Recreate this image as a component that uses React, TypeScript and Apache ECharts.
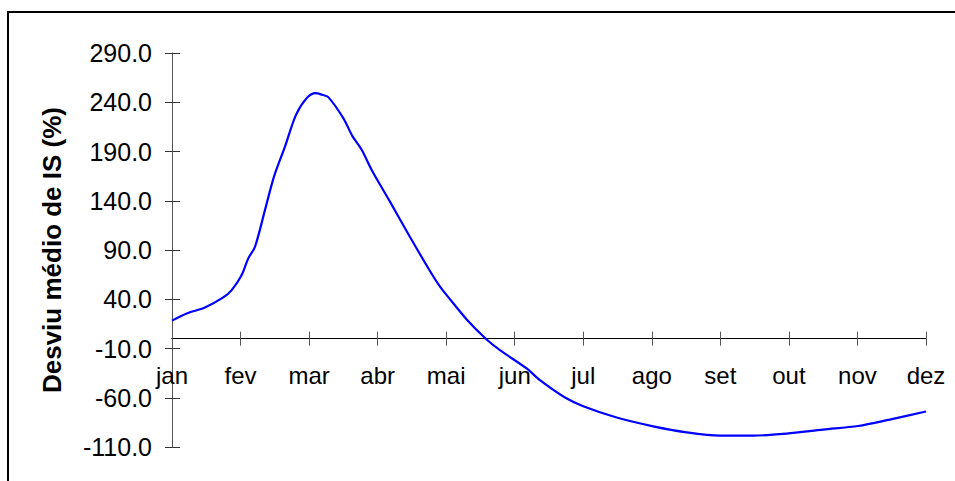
import React, { useEffect, useRef } from "react";
import * as echarts from "echarts";

// Month categories (x positions 0..11)
const months = ["jan", "fev", "mar", "abr", "mai", "jun", "jul", "ago", "set", "out", "nov", "dez"];

// Y tick values
const yTicks = [-110, -60, -10, 40, 90, 140, 190, 240, 290];

// Curve sample positions (in month units, jan = 0) and values (%)
const xPos = [
  0, 0.214, 0.48, 0.748, 0.871, 1.017, 1.113, 1.211, 1.357, 1.488, 1.648, 1.809, 1.965, 2.096, 2.19, 2.28,
  2.499, 2.63, 2.767, 2.913, 3.18, 3.47, 3.77, 3.91, 4.007, 4.299, 4.59, 4.785, 5.174, 5.368, 5.733, 6.0,
  6.487, 7.02, 7.508, 7.994, 8.48, 8.967, 9.5, 10.01, 10.47, 11.0,
];
const yVal = [
  18.3, 25.6, 31.7, 41.9, 49.3, 64.6, 81.5, 93.3, 130.7, 164.5, 195.0, 227.2, 244.2, 249.3, 247.6, 245.2,
  223.9, 205.9, 191.7, 171.3, 139.1, 103.5, 67.9, 52.7, 44.2, 19.5, -0.8, -11.7, -30.3, -42.2, -59.8, -68.6,
  -80.1, -89.0, -95.1, -98.4, -98.4, -96.4, -92.3, -88.7, -82.2, -74.0,
];

const yTitle = "Desviu médio de IS (%)";

const FONT = "'Liberation Sans', Arial, Helvetica, sans-serif";

export default function App() {
  const ref = useRef<HTMLDivElement>(null);

  useEffect(() => {
    if (!ref.current) return;
    const chart = echarts.init(ref.current, null, { renderer: "svg" });

    const xBase: any = {
      type: "value",
      min: 0,
      max: 11,
      interval: 1,
      position: "bottom",
      splitLine: { show: false },
      axisLine: { show: true, onZero: true, lineStyle: { color: "#000", width: 1 } },
    };
    const yBase: any = {
      type: "value",
      min: -110,
      max: 290,
      position: "left",
      splitLine: { show: false },
    };

    chart.setOption({
      animation: false,
      backgroundColor: "#ffffff",
      grid: { left: 172, right: 29, top: 53, bottom: 34, containLabel: false, outerBoundsMode: "none" },
      xAxis: [
        {
          ...xBase,
          axisTick: { show: true, inside: false, length: 7, lineStyle: { color: "#555", width: 1 } },
          axisLabel: {
            show: true,
            formatter: (v: number) => months[Math.round(v)] ?? "",
            fontSize: 24,
            fontFamily: FONT,
            color: "#000",
            // labels sit just under the zero line (which is above the grid's bottom edge)
            margin: -84,
            showMinLabel: true,
            showMaxLabel: true,
          },
        },
        {
          ...xBase,
          axisTick: { show: true, inside: true, length: 7, lineStyle: { color: "#555", width: 1 } },
          axisLabel: { show: false },
        },
      ],
      yAxis: [
        {
          ...yBase,
          axisLine: { show: true, onZero: false, lineStyle: { color: "#555", width: 1 } },
          axisTick: { show: true, inside: false, length: 7, customValues: yTicks, lineStyle: { color: "#333", width: 1 } },
          axisLabel: {
            show: true,
            customValues: yTicks,
            formatter: (v: number) => v.toFixed(1),
            fontSize: 25,
            fontFamily: FONT,
            color: "#000",
            margin: 20,
          },
        },
        {
          ...yBase,
          axisLine: { show: false, onZero: false },
          axisTick: { show: true, inside: true, length: 8, customValues: yTicks, lineStyle: { color: "#333", width: 1 } },
          axisLabel: { show: false, customValues: yTicks },
        },
      ],
      series: [
        {
          type: "line",
          xAxisIndex: 0,
          yAxisIndex: 0,
          data: xPos.map((x, i) => [x, yVal[i]]),
          symbol: "none",
          showSymbol: false,
          smooth: 0.3,
          lineStyle: { color: "#0000ff", width: 2.2 },
          z: 5,
        },
      ],
      graphic: [
        {
          type: "rect",
          z: -10,
          silent: true,
          shape: { x: 8, y: 12, width: 1000, height: 520 },
          style: { fill: "none", stroke: "#000", lineWidth: 2 },
        },
        {
          type: "text",
          x: 52,
          y: 250,
          rotation: Math.PI / 2,
          silent: true,
          style: {
            text: yTitle,
            fontSize: 26,
            fontWeight: "bold",
            fontFamily: FONT,
            fill: "#000",
            align: "center",
            verticalAlign: "middle",
          },
        },
      ],
    });

    return () => {
      chart.dispose();
    };
  }, []);

  return (
    <div
      ref={ref}
      style={{ position: "fixed", left: 0, top: 0, width: 955, height: 481, background: "#fff" }}
    />
  );
}
